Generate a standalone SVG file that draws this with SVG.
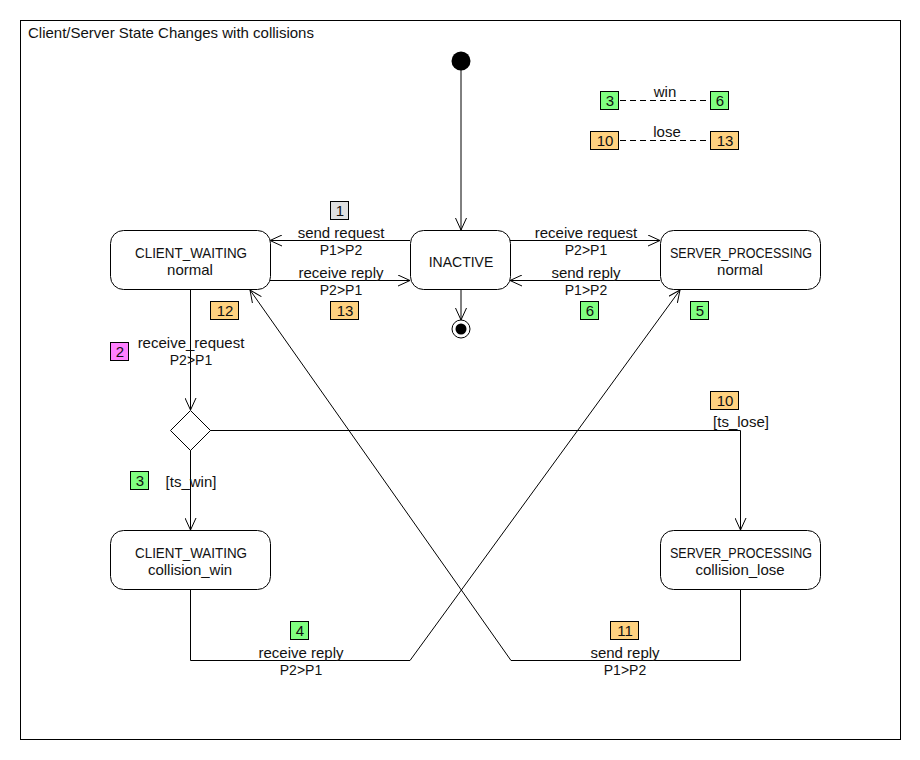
<svg xmlns="http://www.w3.org/2000/svg" width="920" height="760" viewBox="0 0 920 760">
<defs>
<marker id="arr" viewBox="0 0 12 12" refX="12" refY="6" markerWidth="12" markerHeight="12" markerUnits="userSpaceOnUse" orient="auto">
<path d="M0,0.5 L12,6 L0,11.5" fill="none" stroke="#000" stroke-width="1"/>
</marker>
<style>
text{font-family:"Liberation Sans",Arial,sans-serif;font-size:15px;fill:#111}
.m{text-anchor:middle}
.k{font-size:14px}
.q{font-size:14px}
.st{fill:#fff;stroke:#000;stroke-width:1}
.c{fill:none;stroke:#000;stroke-width:1}
.g{fill:#80ff80;stroke:#000}
.o{fill:#ffd280;stroke:#000}
.p{fill:#ff80ff;stroke:#000}
.y{fill:#e0e0e0;stroke:#000}
.d{fill:none;stroke:#000;stroke-dasharray:6,4}
</style>
</defs>
<rect x="20.5" y="20.5" width="880" height="719" fill="#fff" stroke="#000"/>
<text x="28" y="38">Client/Server State Changes with collisions</text>

<g id="connectors">
<line class="c" x1="461" y1="70" x2="461" y2="230" marker-end="url(#arr)"/>
<line class="c" x1="461" y1="290" x2="461" y2="320" marker-end="url(#arr)"/>
<line class="c" x1="410" y1="240.5" x2="270" y2="240.5" marker-end="url(#arr)"/>
<line class="c" x1="270" y1="280.5" x2="410" y2="280.5" marker-end="url(#arr)"/>
<line class="c" x1="510" y1="240.5" x2="660" y2="240.5" marker-end="url(#arr)"/>
<line class="c" x1="660" y1="280.5" x2="510" y2="280.5" marker-end="url(#arr)"/>
<line class="c" x1="190.5" y1="290" x2="190.5" y2="410" marker-end="url(#arr)"/>
<line class="c" x1="190.5" y1="450" x2="190.5" y2="530" marker-end="url(#arr)"/>
<polyline class="c" points="210,430.5 740.5,430.5 740.5,530" marker-end="url(#arr)"/>
<polyline class="c" points="190.5,590 190.5,660.5 410,660.5 680,290" marker-end="url(#arr)"/>
<polyline class="c" points="740.5,590 740.5,660.5 511,660.5 250,290" marker-end="url(#arr)"/>
<line class="d" x1="620" y1="100.5" x2="711" y2="100.5"/>
<line class="d" x1="620" y1="140.5" x2="711" y2="140.5"/>
</g>

<g id="labels">
<text class="m" x="341" y="238">send request</text>
<text class="m q" x="341" y="255">P1&gt;P2</text>
<text class="m" x="341" y="278">receive reply</text>
<text class="m q" x="341" y="295">P2&gt;P1</text>
<text class="m" x="586" y="238">receive request</text>
<text class="m q" x="586" y="255">P2&gt;P1</text>
<text class="m" x="586" y="278">send reply</text>
<text class="m q" x="586" y="295">P1&gt;P2</text>
<text class="m" x="191" y="348">receive_request</text>
<text class="m q" x="191" y="365">P2&gt;P1</text>
<text class="m" x="191" y="487">[ts_win]</text>
<text class="m" x="741" y="427">[ts_lose]</text>
<text class="m" x="301" y="658">receive reply</text>
<text class="m q" x="301" y="675">P2&gt;P1</text>
<text class="m" x="625" y="658">send reply</text>
<text class="m q" x="625" y="675">P1&gt;P2</text>
<text class="m" x="665" y="97">win</text>
<text class="m" x="667" y="137">lose</text>
</g>

<g id="badges">
<rect class="y" x="330.5" y="201.5" width="18" height="18"/><text class="m" x="340" y="216">1</text>
<rect class="o" x="330.5" y="301.5" width="28" height="18"/><text class="m" x="345" y="316">13</text>
<rect class="o" x="210.5" y="301.5" width="28" height="18"/><text class="m" x="225" y="316">12</text>
<rect class="g" x="580.5" y="301.5" width="18" height="18"/><text class="m" x="590" y="316">6</text>
<rect class="g" x="690.5" y="301.5" width="18" height="18"/><text class="m" x="700" y="316">5</text>
<rect class="p" x="110.5" y="342.5" width="18" height="18"/><text class="m" x="120" y="357">2</text>
<rect class="g" x="130.5" y="471.5" width="18" height="18"/><text class="m" x="140" y="486">3</text>
<rect class="o" x="710.5" y="391.5" width="28" height="18"/><text class="m" x="725" y="406">10</text>
<rect class="g" x="290.5" y="621.5" width="18" height="18"/><text class="m" x="300" y="636">4</text>
<rect class="o" x="610.5" y="621.5" width="28" height="18"/><text class="m" x="625" y="636">11</text>
<rect class="g" x="600.5" y="91.5" width="18" height="18"/><text class="m" x="610" y="106">3</text>
<rect class="g" x="710.5" y="91.5" width="18" height="18"/><text class="m" x="720" y="106">6</text>
<rect class="o" x="590.5" y="131.5" width="28" height="18"/><text class="m" x="605" y="146">10</text>
<rect class="o" x="710.5" y="131.5" width="28" height="18"/><text class="m" x="725" y="146">13</text>
</g>

<g id="initial"><circle cx="461" cy="61" r="9.5" fill="#000"/></g>
<g id="final"><circle cx="461" cy="329" r="9" fill="#fff" stroke="#000"/><circle cx="461" cy="329" r="5.5" fill="#000"/></g>

<g id="inactive">
<rect class="st" x="410.5" y="230.5" width="100" height="59" rx="13"/>
<text class="m q" x="461" y="267">INACTIVE</text>
</g>
<g id="client_waiting_normal">
<rect class="st" x="110.5" y="230.5" width="160" height="59" rx="13"/>
<text class="m k" x="191" y="258" textLength="112" lengthAdjust="spacingAndGlyphs">CLIENT_WAITING</text>
<text class="m" x="190" y="275">normal</text>
</g>
<g id="server_processing_normal">
<rect class="st" x="660.5" y="230.5" width="160" height="59" rx="13"/>
<text class="m k" x="741" y="258" textLength="142" lengthAdjust="spacingAndGlyphs">SERVER_PROCESSING</text>
<text class="m" x="740" y="275">normal</text>
</g>
<g id="client_waiting_collision_win">
<rect class="st" x="110.5" y="530.5" width="160" height="59" rx="13"/>
<text class="m k" x="191" y="558" textLength="112" lengthAdjust="spacingAndGlyphs">CLIENT_WAITING</text>
<text class="m" x="190" y="575">collision_win</text>
</g>
<g id="server_processing_collision_lose">
<rect class="st" x="660.5" y="530.5" width="160" height="59" rx="13"/>
<text class="m k" x="741" y="558" textLength="142" lengthAdjust="spacingAndGlyphs">SERVER_PROCESSING</text>
<text class="m" x="740" y="575">collision_lose</text>
</g>
<g id="decision">
<polygon class="st" points="190.5,410.5 210.5,430.5 190.5,450.5 170.5,430.5"/>
</g>
</svg>
